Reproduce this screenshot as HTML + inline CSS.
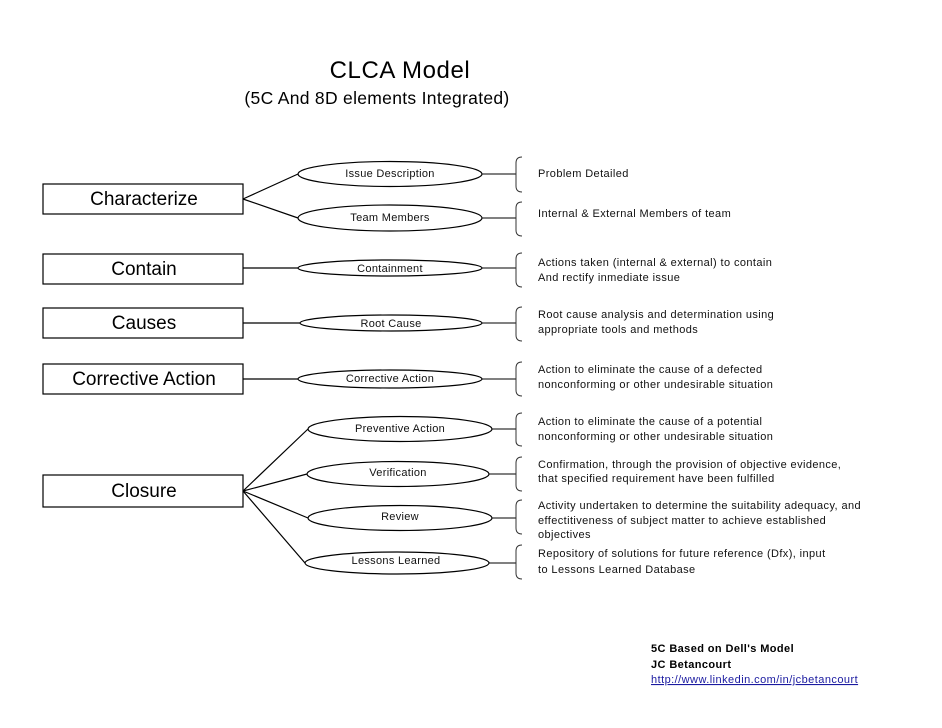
<!DOCTYPE html>
<html><head><meta charset="utf-8"><style>
html,body{margin:0;padding:0;background:#fff;}
svg{display:block;font-family:"Liberation Sans",Arial,sans-serif;}
.d{font-size:11px;letter-spacing:0.4px;fill:#111;}
.e{font-size:11px;letter-spacing:0.3px;fill:#111;}
.b{font-size:19px;fill:#000;}
</style></head><body>
<svg width="942" height="728" viewBox="0 0 942 728" xmlns="http://www.w3.org/2000/svg">
<text x="400" y="78" font-size="24" letter-spacing="0.6" text-anchor="middle">CLCA Model</text>
<text x="377" y="104" font-size="17.5" letter-spacing="0.3" text-anchor="middle">(5C And 8D elements Integrated)</text>

<g fill="none" stroke="#000" stroke-width="1.2">
<rect x="43" y="184" width="200" height="30"/>
<rect x="43" y="254" width="200" height="30"/>
<rect x="43" y="308" width="200" height="30"/>
<rect x="43" y="364" width="200" height="30"/>
<rect x="43" y="475" width="200" height="32"/>
<path d="M243 199 L298 174 M243 199 L298 218 M243 268 L298 268 M243 323 L300 323 M243 379 L298 379 M243 491 L308 429 M243 491 L307 474 M243 491 L308 518 M243 491 L305 563"/>
<ellipse cx="390" cy="174" rx="92" ry="12.5"/>
<ellipse cx="390" cy="218" rx="92" ry="13"/>
<ellipse cx="390" cy="268" rx="92" ry="8"/>
<ellipse cx="391" cy="323" rx="91" ry="8"/>
<ellipse cx="390" cy="379" rx="92" ry="9"/>
<ellipse cx="400" cy="429" rx="92" ry="12.5"/>
<ellipse cx="398" cy="474" rx="91" ry="12.5"/>
<ellipse cx="400" cy="518" rx="92" ry="12.5"/>
<ellipse cx="397" cy="563" rx="92" ry="11"/>
</g>
<g fill="none" stroke="#000" stroke-width="1">
<path d="M482 174H516 M482 218H516 M482 268H516 M482 323H516 M482 379H516 M492 429H516 M489 474H516 M492 518H516 M489 563H516"/>
</g>
<g fill="none" stroke="#333" stroke-width="1">
<path d="M522 157 Q516 157 516 163 V186 Q516 192 522 192"/>
<path d="M522 202 Q516 202 516 208 V230 Q516 236 522 236"/>
<path d="M522 253 Q516 253 516 259 V281 Q516 287 522 287"/>
<path d="M522 307 Q516 307 516 313 V335 Q516 341 522 341"/>
<path d="M522 362 Q516 362 516 368 V390 Q516 396 522 396"/>
<path d="M522 413 Q516 413 516 419 V441 Q516 446 522 446"/>
<path d="M522 457 Q516 457 516 463 V485 Q516 491 522 491"/>
<path d="M522 500 Q516 500 516 506 V528 Q516 534 522 534"/>
<path d="M522 545 Q516 545 516 551 V573 Q516 579 522 579"/>
</g>

<text class="b" x="144" y="205" text-anchor="middle">Characterize</text>
<text class="b" x="144" y="275" text-anchor="middle">Contain</text>
<text class="b" x="144" y="329" text-anchor="middle">Causes</text>
<text class="b" x="144" y="385" text-anchor="middle">Corrective Action</text>
<text class="b" x="144" y="497" text-anchor="middle">Closure</text>

<g class="e" text-anchor="middle">
<text x="390" y="177">Issue Description</text>
<text x="390" y="221">Team Members</text>
<text x="390" y="272">Containment</text>
<text x="391" y="327">Root Cause</text>
<text x="390" y="382">Corrective Action</text>
<text x="400" y="432">Preventive Action</text>
<text x="398" y="476">Verification</text>
<text x="400" y="520">Review</text>
<text x="396" y="564">Lessons Learned</text>
</g>

<g class="d">
<text x="538" y="177">Problem Detailed</text>
<text x="538" y="217">Internal &amp; External Members of team</text>
<text x="538" y="266">Actions taken (internal &amp; external) to contain</text>
<text x="538" y="281">And rectify inmediate issue</text>
<text x="538" y="318">Root cause analysis and determination using</text>
<text x="538" y="333">appropriate tools and methods</text>
<text x="538" y="373">Action to eliminate the cause of a defected</text>
<text x="538" y="388">nonconforming or other undesirable situation</text>
<text x="538" y="425">Action to eliminate the cause of a potential</text>
<text x="538" y="440">nonconforming or other undesirable situation</text>
<text x="538" y="468">Confirmation, through the provision of objective evidence,</text>
<text x="538" y="482">that specified requirement have been fulfilled</text>
<text x="538" y="509">Activity undertaken to determine the suitability adequacy, and</text>
<text x="538" y="524">effectitiveness of subject matter to achieve established</text>
<text x="538" y="538">objectives</text>
<text x="538" y="557">Repository of solutions for future reference (Dfx), input</text>
<text x="538" y="573">to Lessons Learned Database</text>
</g>

<g font-size="11" font-weight="bold" letter-spacing="0.4">
<text x="651" y="652">5C Based on Dell's Model</text>
<text x="651" y="668">JC Betancourt</text>
</g>
<text x="651" y="683" font-size="11" fill="#1a1aa0" letter-spacing="0.45" text-decoration="underline">http://www.linkedin.com/in/jcbetancourt</text>
</svg>
</body></html>
